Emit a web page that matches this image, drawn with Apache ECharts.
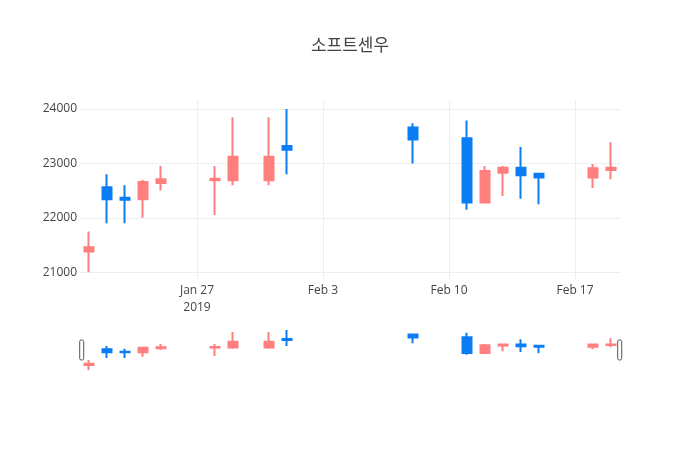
<!DOCTYPE html>
<html>
<head>
<meta charset="utf-8">
<title>소프트센우</title>
<script src="https://cdn.jsdelivr.net/npm/echarts@6/dist/echarts.min.js"></script>
<style>
    html, body { margin: 0; padding: 0; background: #fff; }
    #main { width: 700px; height: 450px; }
</style>
</head>
<body>
<div id="main"></div>
<script>
// 일별 시세 (빨강 = 상승, 파랑 = 하락)
var dates  = ['2019-01-21', '2019-01-22', '2019-01-23', '2019-01-24', '2019-01-25',
              '2019-01-28', '2019-01-29', '2019-01-31', '2019-02-01', '2019-02-08',
              '2019-02-11', '2019-02-12', '2019-02-13', '2019-02-14', '2019-02-15',
              '2019-02-18', '2019-02-19'];
var opens  = [21380, 22560, 22370, 22340, 22640, 22690, 22690, 22690, 23320, 23660,
              23460, 22280, 22830, 22920, 22810, 22740, 22880];
var closes = [21460, 22340, 22330, 22660, 22710, 22720, 23120, 23120, 23250, 23440,
              22280, 22860, 22920, 22780, 22740, 22910, 22920];
var lows   = [21000, 21900, 21900, 22000, 22500, 22050, 22600, 22600, 22800, 23000,
              22150, 22280, 22400, 22350, 22250, 22550, 22710];
var highs  = [21750, 22800, 22600, 22700, 22950, 22950, 23850, 23850, 24000, 23740,
              23790, 22950, 22950, 23300, 22810, 22990, 23390];

var xTicks = ['2019-01-27', '2019-02-03', '2019-02-10', '2019-02-17'];
var yTicks = [21000, 22000, 23000, 24000];

var upColor = '#ff7f7f';
var downColor = '#0a7cf4';
var months = ['Jan', 'Feb', 'Mar', 'Apr', 'May', 'Jun', 'Jul', 'Aug', 'Sep', 'Oct', 'Nov', 'Dec'];

// 'YYYY-MM-DD' -> 로컬 시간(ms)
var toTime = function (s, hour) {
    var p = s.split('-');
    return +new Date(+p[0], +p[1] - 1, +p[2], hour || 0);
};

var candles = [];
for (var i = 0; i < dates.length; i++) {
    candles.push([toTime(dates[i]), opens[i], closes[i], lows[i], highs[i]]);
}
var tickTimes = xTicks.map(function (d) { return toTime(d); });

var xMin = toTime('2019-01-20', 12);
var xMax = toTime('2019-02-19', 12);

var font = '"Open Sans", "Noto Sans", sans-serif';

var myChart = echarts.init(document.getElementById('main'), null, {renderer: 'canvas'});

myChart.setOption({
    animation: false,
    backgroundColor: '#fff',
    title: {
        text: '소프트센우',
        left: 'center',
        top: 36,
        padding: 0,
        textStyle: {
            fontFamily: '"Noto Sans CJK KR", sans-serif',
            fontSize: 17,
            fontWeight: 'normal',
            color: '#444'
        }
    },
    grid: [
        {left: 80, right: 80, top: 100, height: 180},
        {left: 80, right: 80, top: 330, height: 40}
    ],
    xAxis: [{
        type: 'value',
        gridIndex: 0,
        min: xMin,
        max: xMax,
        axisLine: {show: false},
        axisTick: {show: false, customValues: tickTimes},
        axisLabel: {
            customValues: tickTimes,
            margin: 2,
            fontFamily: font,
            fontSize: 12,
            color: '#444',
            lineHeight: 17,
            formatter: function (v) {
                var d = new Date(v);
                var s = months[d.getMonth()] + ' ' + d.getDate();
                if (v === tickTimes[0]) s += '\n' + d.getFullYear();
                return s;
            }
        },
        splitLine: {show: true, lineStyle: {color: '#eee', width: 1}}
    }, {
        type: 'value',
        gridIndex: 1,
        min: xMin,
        max: xMax,
        show: false
    }],
    yAxis: [{
        type: 'value',
        gridIndex: 0,
        min: 20857,
        max: 24165,
        axisLine: {show: false},
        axisTick: {show: false, customValues: yTicks},
        axisLabel: {
            customValues: yTicks,
            margin: 3,
            fontFamily: font,
            fontSize: 12,
            color: '#444',
            formatter: function (v) { return String(v); }
        },
        splitLine: {show: true, lineStyle: {color: '#eee', width: 1}}
    }, {
        type: 'value',
        gridIndex: 1,
        min: 21000,
        max: 24000,
        show: false
    }],
    dataZoom: [{
        type: 'slider',
        xAxisIndex: 1,
        filterMode: 'none',
        left: 80,
        right: 80,
        top: 330,
        height: 40,
        start: 0,
        end: 100,
        showDetail: false,
        showDataShadow: false,
        brushSelect: false,
        moveHandleSize: 0,
        backgroundColor: 'rgba(0,0,0,0)',
        borderColor: 'rgba(0,0,0,0)',
        fillerColor: 'rgba(0,0,0,0)',
        handleIcon: 'path://M2,0 h1 a2,2 0 0 1 2,2 v21 a2,2 0 0 1 -2,2 h-1 a2,2 0 0 1 -2,-2 v-21 a2,2 0 0 1 2,-2 Z',
        handleSize: '50%',
        handleStyle: {color: '#fff', borderColor: '#555', borderWidth: 1},
        emphasis: {handleStyle: {color: '#fff', borderColor: '#555', borderWidth: 1}}
    }],
    series: [{
        name: '소프트센우',
        type: 'candlestick',
        xAxisIndex: 0,
        yAxisIndex: 0,
        barWidth: 9,
        data: candles,
        itemStyle: {
            color: upColor,
            color0: downColor,
            borderColor: upColor,
            borderColor0: downColor,
            borderWidth: 2
        }
    }, {
        name: 'rangeslider',
        type: 'candlestick',
        xAxisIndex: 1,
        yAxisIndex: 1,
        barWidth: 9,
        silent: true,
        data: candles,
        itemStyle: {
            color: upColor,
            color0: downColor,
            borderColor: upColor,
            borderColor0: downColor,
            borderWidth: 2
        }
    }]
});
</script>
</body>
</html>
